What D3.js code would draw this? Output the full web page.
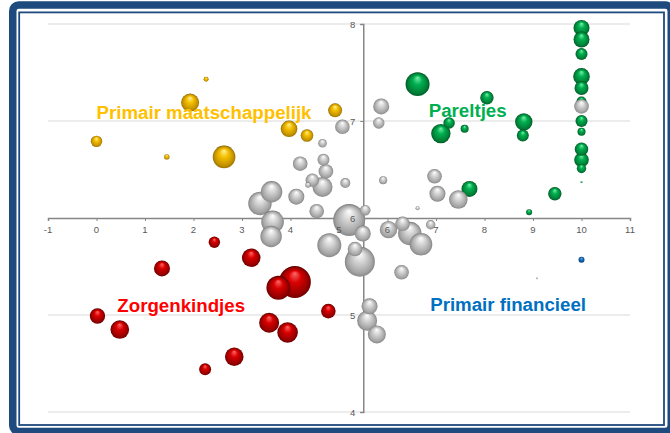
<!DOCTYPE html>
<html>
<head>
<meta charset="utf-8">
<script src="https://cdn.jsdelivr.net/npm/d3@7"></script>
<style>
  html, body { margin: 0; padding: 0; background: #ffffff; }
  svg { display: block; font-family: "Liberation Sans", Arial, sans-serif; }
</style>
</head>
<body>
<svg id="chart" width="670" height="433"></svg>
<script>
// Portfolio positions: [financial score, social score, size]
const maatschappelijk = [
  [2.26, 7.43, 2.4], [1.93, 7.19, 31.6], [4.92, 7.11, 19], [3.97, 6.92, 27],
  [4.34, 6.85, 15.5], [0.00, 6.79, 12.7], [1.45, 6.63, 2.8], [2.63, 6.63, 50]
];
const pareltjes = [
  [6.62, 7.38, 56], [8.05, 7.24, 17.5], [7.59, 6.92, 6.3], [7.10, 6.87, 36.8],
  [7.27, 6.98, 12.7], [8.81, 6.99, 29.5], [8.79, 6.85, 14], [7.69, 6.30, 25],
  [9.45, 6.25, 17.5], [8.92, 6.06, 3.5],
  [10, 7.96, 25], [10, 7.84, 25], [10, 7.69, 14], [10, 7.46, 27], [10, 7.34, 19],
  [10, 7.20, 9.8], [10, 7.00, 14], [10, 6.89, 6.3], [10, 6.71, 17.5],
  [10, 6.60, 20.8], [10, 6.51, 8.6], [10, 6.37, 0.4]
];
const zorgenkindjes = [
  [2.43, 5.75, 12.7], [3.19, 5.59, 33.8], [1.35, 5.48, 25], [4.09, 5.34, 100],
  [3.75, 5.28, 56], [4.78, 5.04, 20.8], [0.02, 4.99, 23], [0.48, 4.85, 33.8],
  [3.56, 4.92, 39], [3.94, 4.82, 41.4], [2.84, 4.57, 33.8], [2.24, 4.44, 14]
];
const financieel = [
  [10, 5.57, 3.5]
];
const midden = [
  [5.07, 6.94, 20.8], [5.82, 6.98, 12.7], [5.87, 7.15, 25], [4.66, 6.77, 7.2],
  [4.20, 6.56, 20.8], [4.68, 6.60, 14], [4.73, 6.48, 20.8], [5.13, 6.36, 9.8],
  [4.45, 6.39, 17.5], [4.66, 6.32, 39], [4.36, 6.34, 2.8], [3.61, 6.27, 44.7],
  [3.37, 6.15, 53.5], [4.12, 6.22, 25], [4.54, 6.07, 20.8], [3.63, 5.96, 49.9],
  [3.60, 5.81, 44.7], [5.21, 5.98, 100], [5.54, 6.08, 11], [5.49, 5.84, 25],
  [4.80, 5.72, 56], [5.33, 5.68, 20.8], [5.43, 5.55, 88], [6.29, 5.44, 20.8],
  [5.91, 6.39, 6.3], [6.97, 6.43, 20.8], [7.03, 6.25, 25], [6.62, 6.10, 1.6],
  [6.02, 5.88, 29.5], [6.31, 5.94, 20.8], [6.46, 5.84, 53.5], [6.69, 5.73, 49.9],
  [6.89, 5.93, 8.6], [5.63, 5.09, 25], [5.58, 4.94, 39], [5.78, 4.80, 31.6],
  [7.46, 6.19, 33.8], [10, 7.15, 20.8], [9.08, 5.38, 0.4]
];

const xTicks = [-1, 0, 1, 2, 3, 4, 5, 6, 7, 8, 9, 10, 11];
const yTicks = [4, 5, 6, 7, 8];
const quadrantNames = ["Primair maatschappelijk", "Pareltjes", "Zorgenkindjes", "Primair financieel"];

const svg = d3.select("#chart");

// Frame: thick rounded border with a thin inner rule
svg.append("rect").attr("x", 0).attr("y", 0).attr("width", 670).attr("height", 433).attr("fill", "#ffffff");
svg.append("rect")
  .attr("x", 12.75).attr("y", 5).attr("width", 658.5).attr("height", 426.5)
  .attr("rx", 6).attr("fill", "none").attr("stroke", "#1f4a7e").attr("stroke-width", 7.5);
svg.append("rect")
  .attr("x", 19.2).attr("y", 12.4).attr("width", 644.8).attr("height", 412.6)
  .attr("fill", "none").attr("stroke", "#1f4a7e").attr("stroke-width", 1.8);

const x = d3.scaleLinear().domain([-1, 11]).range([48, 630]);
const y = d3.scaleLinear().domain([4, 8]).range([412, 24]);
const r = d3.scaleSqrt().domain([0, 100]).range([0, 16]);

const xCross = 5.5, yCross = 6;

// Horizontal gridlines
svg.append("g")
  .selectAll("line")
  .data(yTicks.filter(v => v !== yCross))
  .join("line")
  .attr("x1", x(-1)).attr("x2", x(11))
  .attr("y1", d => y(d)).attr("y2", d => y(d))
  .attr("stroke", "#d9d9d9").attr("stroke-width", 1.2);

// Axis lines with tick marks
const xAxis = d3.axisBottom(x).tickValues(xTicks).tickSize(3).tickFormat("");
const yAxis = d3.axisLeft(y).tickValues(yTicks).tickSize(3).tickFormat("");
const gx = svg.append("g").attr("transform", `translate(0,${y(yCross)})`).call(xAxis);
const gy = svg.append("g").attr("transform", `translate(${x(xCross)},0)`).call(yAxis);
[gx, gy].forEach(g => {
  g.select(".domain").attr("stroke", "#868686").attr("stroke-width", 1.5);
  g.selectAll(".tick line").attr("stroke", "#868686").attr("stroke-width", 1);
});

// Sphere gradients
const palette = {
  gold:  ["#fff1a0", "#f5c000", "#c49200", "#7d5c00"],
  green: ["#7af0aa", "#00b050", "#007d36", "#00461e"],
  red:   ["#ff6a6a", "#d80000", "#960000", "#520000"],
  blue:  ["#7ab8f0", "#1f78c8", "#0d4f90", "#083463"],
  grey:  ["#ffffff", "#d4d4d4", "#a4a4a4", "#747474"]
};
const defs = svg.append("defs");
Object.entries(palette).forEach(([name, c]) => {
  const g = defs.append("radialGradient").attr("id", "sph-" + name)
    .attr("cx", "50%").attr("cy", "55%").attr("r", "55%")
    .attr("fx", "50%").attr("fy", "22%");
  g.append("stop").attr("offset", "0%").attr("stop-color", c[0]);
  g.append("stop").attr("offset", "35%").attr("stop-color", c[1]);
  g.append("stop").attr("offset", "75%").attr("stop-color", c[2]);
  g.append("stop").attr("offset", "100%").attr("stop-color", c[3]);
});

const groups = [
  { data: maatschappelijk, color: "gold" },
  { data: pareltjes, color: "green" },
  { data: zorgenkindjes, color: "red" },
  { data: financieel, color: "blue" },
  { data: midden, color: "grey" }
];

const bubbles = svg.append("g");
groups.forEach(grp => {
  const sorted = grp.data.slice().sort((a, b) => b[2] - a[2]);
  bubbles.append("g")
    .selectAll("circle")
    .data(sorted)
    .join("circle")
    .attr("cx", d => x(d[0]))
    .attr("cy", d => y(d[1]))
    .attr("r", d => Math.max(r(d[2]), 0.8))
    .attr("fill", `url(#sph-${grp.color})`);
});

// Tick labels drawn above the bubbles
svg.append("g")
  .selectAll("text")
  .data(xTicks)
  .join("text")
  .attr("x", d => x(d)).attr("y", y(yCross) + 15)
  .attr("text-anchor", "middle")
  .attr("font-size", 9.5).attr("fill", "#595959")
  .text(d => d);
svg.append("g")
  .selectAll("text")
  .data(yTicks)
  .join("text")
  .attr("x", x(xCross) - 8).attr("y", d => y(d) + 3.5)
  .attr("text-anchor", "end")
  .attr("font-size", 9.5).attr("fill", "#595959")
  .text(d => d);

// Quadrant names
const quadrantStyle = [
  { pos: [0.0, 7.02], fill: "#ffc000" },
  { pos: [6.85, 7.04], fill: "#00b050" },
  { pos: [0.43, 5.03], fill: "#ff0000" },
  { pos: [6.88, 5.04], fill: "#0070c0" }
];
svg.append("g")
  .selectAll("text")
  .data(quadrantNames)
  .join("text")
  .attr("x", (d, i) => x(quadrantStyle[i].pos[0]))
  .attr("y", (d, i) => y(quadrantStyle[i].pos[1]))
  .attr("font-size", 18.7).attr("font-weight", "bold")
  .attr("fill", (d, i) => quadrantStyle[i].fill)
  .text(d => d);
</script>
</body>
</html>
